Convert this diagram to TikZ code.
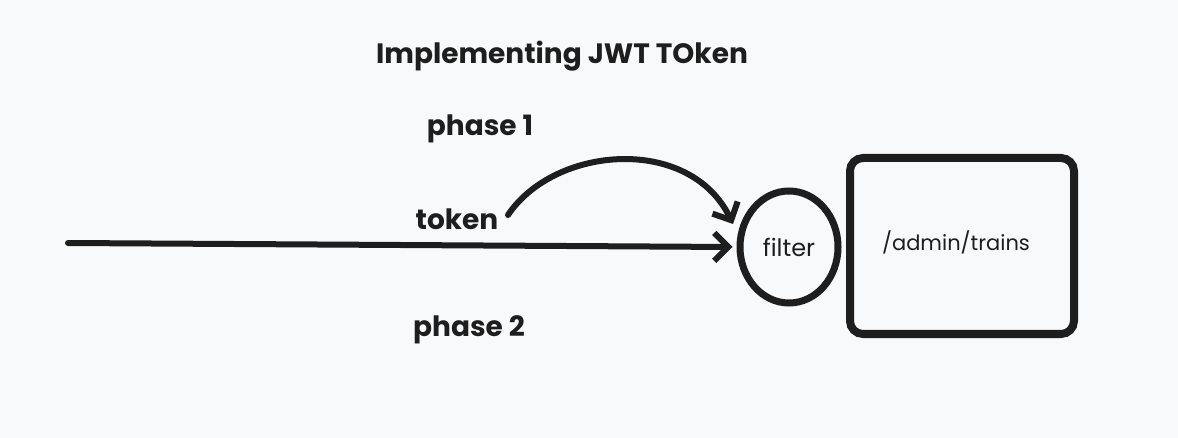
\documentclass[tikz,border=0pt]{standalone}
\usepackage{fontspec}
\setmainfont{Poppins}
\usetikzlibrary{arrows.meta,shapes.geometric}
\definecolor{bg}{HTML}{F8F9FA}
\definecolor{ink}{HTML}{1E1E1E}
\tikzset{
  lbl/.style={text=ink, inner sep=0pt, font=\fontsize{28}{32}\selectfont\bfseries},
  conn/.style={draw=ink, line width=6pt, line cap=round, line join=round,
    -{Straight Barb[length=14pt, width=28pt, line width=6pt]}},
}
\begin{document}
\begin{tikzpicture}[x=1pt,y=-1pt]
\fill[bg] (0,0) rectangle (1178,438);
\useasboundingbox (0,0) rectangle (1178,438);
\node[lbl] (title) at (562,56) {Implementing JWT TOken};
\node[lbl] (p1) at (480,129) {phase 1};
\node[lbl] (tok) at (457,219) {token};
\node[lbl] (p2) at (469,330) {phase 2};
\node[draw=ink, line width=7pt, ellipse, minimum width=98pt, minimum height=112pt, inner sep=0pt, text=ink, font=\fontsize{24}{28}\selectfont\mdseries] (filter) at (789,247) {filter};
\node[draw=ink, line width=8pt, rounded corners=13pt, minimum width=224pt, minimum height=176pt, anchor=north west, inner sep=0pt] (box) at (846,154) {};
\node[text=ink, inner sep=0pt, font=\fontsize{21}{24}\selectfont] (route) at (956,242) {/admin/trains};
\coordinate (start) at (68,243);
\coordinate (cs) at (508,215);
\draw[conn] (start) -- ([xshift=-4pt]filter.west);
\draw[conn] (cs) .. controls (555,145) and (690,135) .. (733,224);
\end{tikzpicture}
\end{document}
